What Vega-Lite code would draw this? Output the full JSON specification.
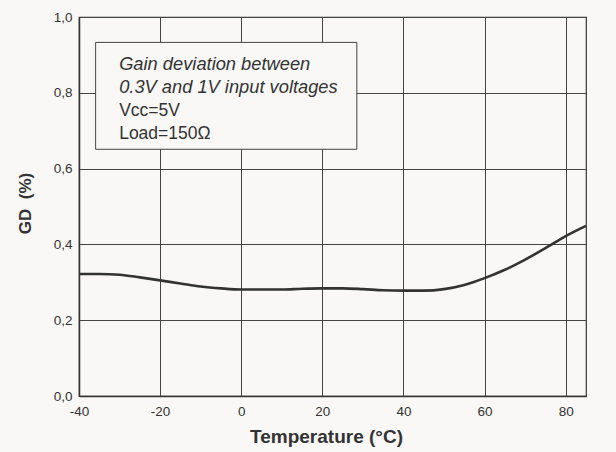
{
  "$schema": "https://vega.github.io/schema/vega-lite/v6.json",
  "width": 507,
  "height": 379,
  "autosize": {"type": "none"},
  "padding": {"left": 79, "top": 17, "right": 30, "bottom": 56},
  "background": "#f9f8f6",
  "config": {
    "view": {"stroke": "#333333", "strokeWidth": 1.2, "fill": "#f9f8f6"},
    "font": "Liberation Sans",
    "axis": {
      "gridColor": "#444444", "gridOpacity": 1, "gridWidth": 1,
      "domainColor": "#333333", "domainWidth": 1.5,
      "tickColor": "#333333", "tickSize": 0,
      "labelColor": "#333333", "labelFontSize": 13.5, "labelFont": "Liberation Sans", "labelFlush": false,
      "titleColor": "#333333", "titleFont": "Liberation Sans", "titleFontWeight": "bold"
    }
  },
  "datasets": {
    "curve": [
      {"t": -40, "gd": 0.322}, {"t": -35, "gd": 0.322}, {"t": -30, "gd": 0.320}, {"t": -25, "gd": 0.313},
      {"t": -20, "gd": 0.305}, {"t": -15, "gd": 0.297}, {"t": -10, "gd": 0.289}, {"t": -5, "gd": 0.284},
      {"t": 0, "gd": 0.281}, {"t": 5, "gd": 0.281}, {"t": 10, "gd": 0.281}, {"t": 15, "gd": 0.283},
      {"t": 20, "gd": 0.284}, {"t": 25, "gd": 0.284}, {"t": 30, "gd": 0.282}, {"t": 35, "gd": 0.279},
      {"t": 40, "gd": 0.278}, {"t": 45, "gd": 0.278}, {"t": 50, "gd": 0.282}, {"t": 55, "gd": 0.293},
      {"t": 60, "gd": 0.311}, {"t": 65, "gd": 0.333}, {"t": 70, "gd": 0.360}, {"t": 75, "gd": 0.390},
      {"t": 80, "gd": 0.422}, {"t": 85, "gd": 0.449}
    ],
    "box": [{"x1": -35.9, "x2": 28.5, "y1": 0.651, "y2": 0.933}],
    "notes": [
      {"x": -30.1, "y": 0.860, "txt": "Gain deviation between", "st": "italic"},
      {"x": -30.1, "y": 0.800, "txt": "0.3V and 1V input voltages", "st": "italic"},
      {"x": -30.1, "y": 0.739, "txt": "Vcc=5V", "st": "normal"},
      {"x": -30.1, "y": 0.678, "txt": "Load=150Ω", "st": "normal"}
    ]
  },
  "layer": [
    {
      "data": {"name": "curve"},
      "mark": {"type": "line", "color": "#333333", "strokeWidth": 2.6, "interpolate": "monotone"},
      "encoding": {
        "x": {"field": "t", "type": "quantitative", "scale": {"domain": [-40, 85], "nice": false, "zero": false},
              "axis": {"values": [-40, -20, 0, 20, 40, 60, 80], "title": "Temperature (°C)", "titleFontSize": 19, "titleX": 247, "labelExpr": "'' + datum.value", "labelPadding": 8, "titlePadding": 10}},
        "y": {"field": "gd", "type": "quantitative", "scale": {"domain": [0, 1], "nice": false},
              "axis": {"values": [0, 0.2, 0.4, 0.6, 0.8, 1.0], "title": "GD\u00a0\u00a0(%)", "titleFontSize": 17, "titleY": 186, "labelExpr": "replace(format(datum.value, '.1f'), '.', ',')", "labelPadding": 7, "titlePadding": 19}}
      }
    },
    {
      "data": {"name": "box"},
      "mark": {"type": "rect", "fill": "#f9f8f6", "stroke": "#444444", "strokeWidth": 1},
      "encoding": {
        "x": {"field": "x1", "type": "quantitative"},
        "x2": {"field": "x2"},
        "y": {"field": "y1", "type": "quantitative"},
        "y2": {"field": "y2"}
      }
    },
    {
      "data": {"name": "notes"},
      "transform": [{"filter": "datum.st === 'italic'"}],
      "mark": {"type": "text", "align": "left", "baseline": "alphabetic", "fontSize": 18.3, "fontStyle": "italic", "color": "#333333", "font": "Liberation Sans"},
      "encoding": {
        "x": {"field": "x", "type": "quantitative"},
        "y": {"field": "y", "type": "quantitative"},
        "text": {"field": "txt"}
      }
    },
    {
      "data": {"name": "notes"},
      "transform": [{"filter": "datum.st === 'normal'"}],
      "mark": {"type": "text", "align": "left", "baseline": "alphabetic", "fontSize": 17.5, "color": "#333333", "font": "Liberation Sans"},
      "encoding": {
        "x": {"field": "x", "type": "quantitative"},
        "y": {"field": "y", "type": "quantitative"},
        "text": {"field": "txt"}
      }
    }
  ]
}
